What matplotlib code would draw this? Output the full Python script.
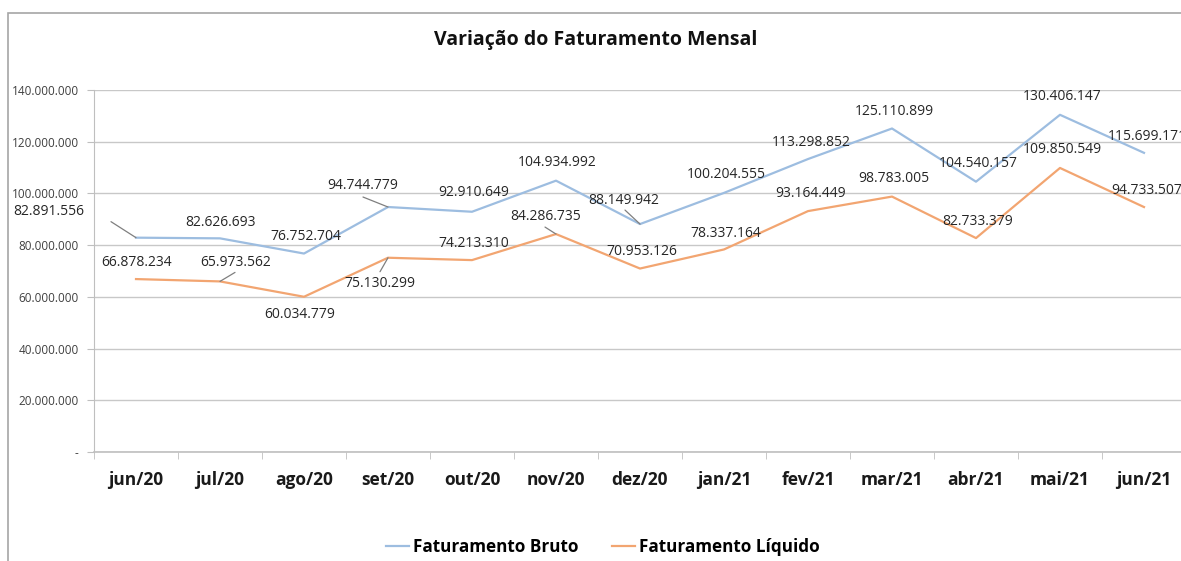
import matplotlib
matplotlib.use("Agg")
import matplotlib.pyplot as plt
from matplotlib.patches import Rectangle
from matplotlib.ticker import FixedLocator, FuncFormatter

# data
meses = ["jun/20", "jul/20", "ago/20", "set/20", "out/20", "nov/20", "dez/20",
         "jan/21", "fev/21", "mar/21", "abr/21", "mai/21", "jun/21"]
bruto = [82891556, 82626693, 76752704, 94744779, 92910649, 104934992, 88149942,
         100204555, 113298852, 125110899, 104540157, 130406147, 115699171]
liquido = [66878234, 65973562, 60034779, 75130299, 74213310, 84286735, 70953126,
           78337164, 93164449, 98783005, 82733379, 109850549, 94733507]
yticks = [0, 20000000, 40000000, 60000000, 80000000, 100000000, 120000000, 140000000]

# label offsets in pixels (dx, dy), screen coords (dy up)
off_bruto = [(-87, 26), (1, 16), (2, 17), (-25, 22), (2, 19), (1, 18), (-16, 24),
             (2, 18), (3, 17), (2, 17), (2, 18), (2, 18), (3, 16)]
off_liq = [(1, 17), (16, 19), (-4, -18), (-8, -26), (2, 17), (-10, 18), (2, 17),
           (2, 16), (3, 18), (2, 18), (2, 17), (2, 18), (3, 17)]
leader_bruto = {0: (-25, 16), 3: (-25, 10), 6: (-15, 14)}
leader_liq = {1: (15, 9), 3: (-8, -14), 5: (-11, 7)}

W, H = 1181, 561
fig = plt.figure(figsize=(W / 100, H / 100), dpi=100)
plt.rcParams['font.family'] = ['Open Sans', 'DejaVu Sans']

# outer chart border (cropped at right/bottom)
fig.patches.append(Rectangle((8 / W, -0.05), 1.2, 1 - 13 / H + 0.05,
                             transform=fig.transFigure, fill=False,
                             edgecolor='#a6a6a6', linewidth=1.2))

left, right = 94, 1186
bottom, top = 452, 90
ax = fig.add_axes([left / W, 1 - bottom / H, (right - left) / W, (bottom - top) / H])

x = list(range(len(meses)))
c_bruto = '#9dbde0'
c_liq = '#f2a571'
ax.plot(x, bruto, color=c_bruto, linewidth=1.6, label='Faturamento Bruto', zorder=3)
ax.plot(x, liquido, color=c_liq, linewidth=1.6, label='Faturamento Líquido', zorder=3)

ax.set_xlim(-0.5, len(meses) - 0.5)
ax.set_ylim(0, 140000000)
ax.set_yticks(yticks)
ax.yaxis.set_major_formatter(FuncFormatter(
    lambda v, p: '-' if v == 0 else f"{int(v):,}".replace(',', '.')))
ax.grid(axis='y', color='#c8c8c8', linewidth=1)
ax.set_axisbelow(True)

ax.set_xticks(x)
ax.set_xticklabels(meses, fontsize=12.5, fontweight='bold', color='#1a1a1a')
ax.xaxis.set_minor_locator(FixedLocator([i - 0.5 for i in range(len(meses) + 1)]))
ax.tick_params(axis='x', which='major', length=0, pad=14)
ax.tick_params(axis='x', which='minor', length=5, color='#bfbfbf')
ax.tick_params(axis='y', length=5, color='#bfbfbf', labelsize=8.5, labelcolor='#404040', pad=6)

for s in ['top', 'right']:
    ax.spines[s].set_visible(False)
for s in ['left', 'bottom']:
    ax.spines[s].set_color('#bfbfbf')
ax.spines['bottom'].set_linewidth(1.2)


def fmt(v):
    return f"{v:,}".replace(',', '.')


pt = 72 / 100
for serie, offs, leaders in [(bruto, off_bruto, leader_bruto), (liquido, off_liq, leader_liq)]:
    for i, v in enumerate(serie):
        dx, dy = offs[i]
        ax.annotate(fmt(v), xy=(i, v), xytext=(dx * pt, dy * pt), textcoords='offset points',
                    ha='center', va='center', fontsize=10, color='#262626', zorder=4,
                    annotation_clip=False)
        if i in leaders:
            lx, ly = leaders[i]
            ax.annotate('', xy=(i, v), xytext=(lx * pt, ly * pt), textcoords='offset points',
                        arrowprops=dict(arrowstyle='-', color='#7f7f7f', lw=0.9,
                                        shrinkA=0, shrinkB=0))

fig.text(596 / W, 1 - 40 / H, 'Variação do Faturamento Mensal', ha='center', va='center',
         fontsize=14, fontweight='bold', color='#111111')

fig.legend(loc='center', bbox_to_anchor=(603 / W, 1 - 547 / H), ncol=2, frameon=False,
           prop={'weight': 'bold', 'size': 12.3}, handlelength=1.3, handletextpad=0.25,
           columnspacing=2.0)

fig.savefig('out.png', dpi=100)
